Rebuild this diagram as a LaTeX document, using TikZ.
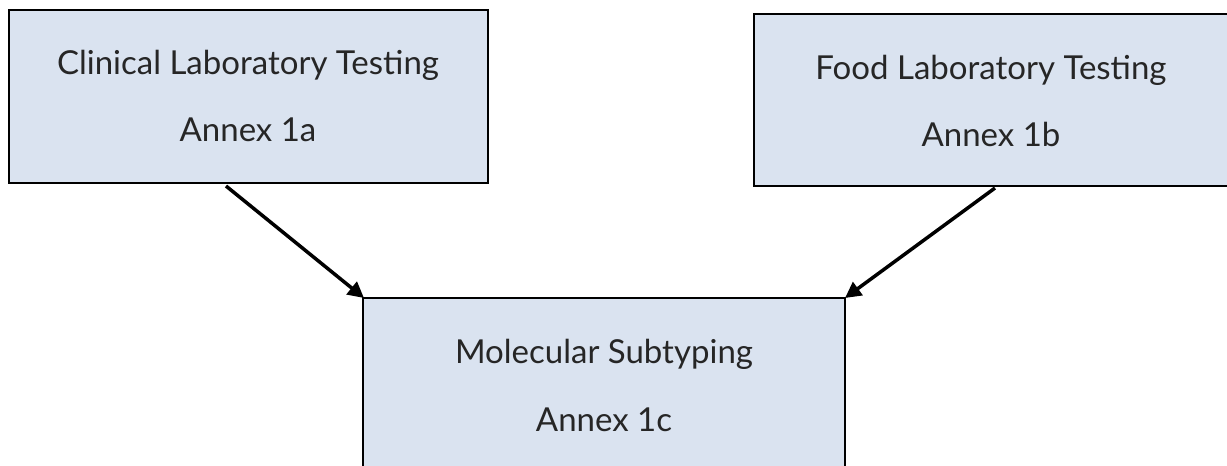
\documentclass[tikz,border=0pt]{standalone}
\usepackage{fontspec}
\setmainfont{Lato}
\usetikzlibrary{arrows.meta}
\definecolor{boxfill}{HTML}{DAE3F0}
\begin{document}
\begin{tikzpicture}[x=1pt,y=-1pt,
  box/.style={draw=black,line width=2pt,fill=boxfill},
  lbl/.style={font=\fontsize{33}{38}\selectfont,text=black!85,anchor=base},
  conn/.style={line width=3.5pt,-{Triangle[length=16pt,width=16pt]}}]
\useasboundingbox (0,0) rectangle (1227,466);
\fill[white] (0,0) rectangle (1227,466);
\draw[box] (9,10) rectangle (488,183);
\fill[boxfill] (755,15) rectangle (1227,185);
\draw[box,fill=none] (1227,14) -- (754,14) -- (754,186) -- (1227,186);
\draw[box] (363,298) rectangle (845,470);
\node[lbl] (c1) at (248,74) {Clinical Laboratory Testing};
\node[lbl] (c2) at (248,141) {Annex 1a};
\node[lbl] (f1) at (991,79) {Food Laboratory Testing};
\node[lbl] (f2) at (991,146) {Annex 1b};
\node[lbl] (m1) at (604,363) {Molecular Subtyping};
\node[lbl] (m2) at (604,431) {Annex 1c};
\coordinate (a1) at (226,186);
\coordinate (a1e) at (364,298);
\coordinate (a2) at (995,188);
\coordinate (a2e) at (845,298);
\draw[conn] (a1) -- (a1e);
\draw[conn] (a2) -- (a2e);
\end{tikzpicture}
\end{document}
